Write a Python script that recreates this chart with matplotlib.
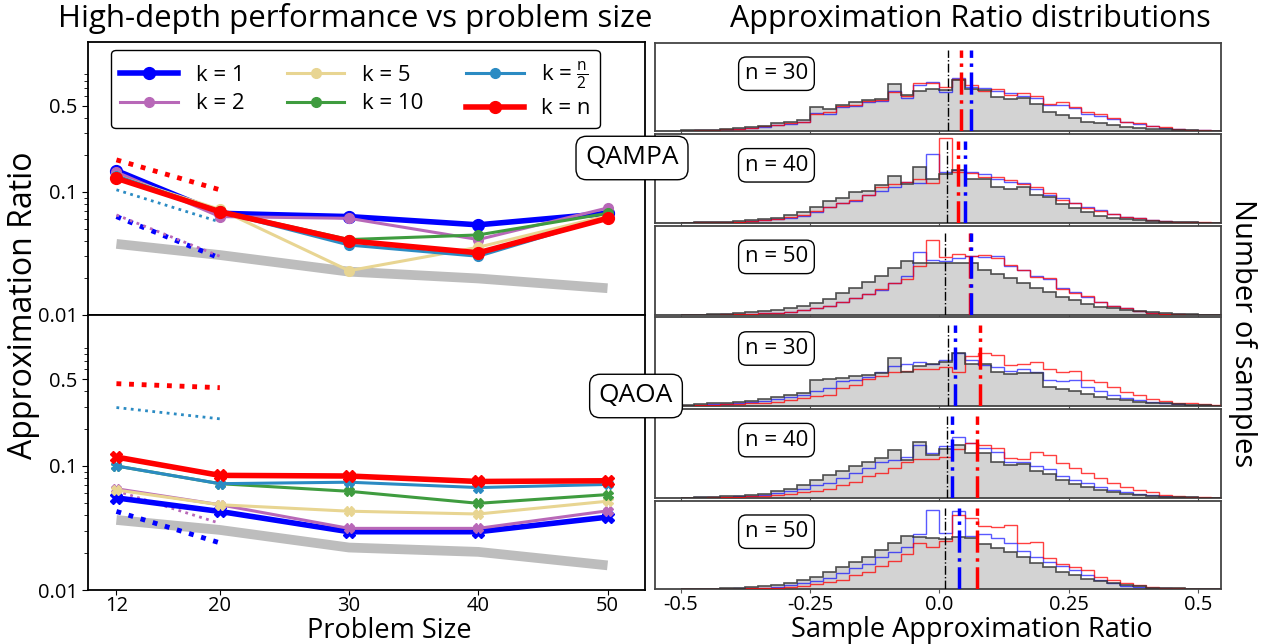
import numpy as np
import matplotlib.pyplot as plt
from matplotlib.ticker import FixedLocator, NullFormatter, NullLocator

plt.rcParams['font.family'] = ['Open Sans', 'DejaVu Sans']
plt.rcParams['mathtext.fontset'] = 'custom'
plt.rcParams['mathtext.rm'] = 'Open Sans'
plt.rcParams['mathtext.it'] = 'Open Sans'

# ---------------- left column: approximation ratio vs problem size ----------------
sizes = [12, 20, 30, 40, 50]
k_labels = ['k = 1', 'k = 2', 'k = 5', 'k = 10', r'k = $\frac{n}{2}$', 'k = n']
k_colors = ['#0000ff', '#b868b8', '#e8d592', '#3f9c3f', '#2b8bc3', '#ff0000']
k_widths = [4, 2.2, 2.2, 2.2, 2.2, 4]

qampa_k1 = [0.149, 0.067, 0.063, 0.054, 0.067]
qampa_k2 = [0.145, 0.063, 0.061, 0.041, 0.074]
qampa_k5 = [0.135, 0.072, 0.0229, 0.0355, 0.064]
qampa_k10 = [0.133, 0.070, 0.041, 0.0447, 0.067]
qampa_kn2 = [0.135, 0.069, 0.037, 0.030, 0.062]
qampa_kn = [0.129, 0.069, 0.040, 0.032, 0.061]
qampa_base = [0.0378, 0.0307, 0.0225, 0.0198, 0.0165]

qaoa_k1 = [0.0553, 0.043, 0.0295, 0.0295, 0.0387]
qaoa_k2 = [0.0655, 0.0487, 0.0314, 0.0314, 0.0435]
qaoa_k5 = [0.064, 0.0487, 0.0432, 0.041, 0.052]
qaoa_k10 = [0.100, 0.072, 0.0625, 0.050, 0.0588]
qaoa_kn2 = [0.100, 0.072, 0.074, 0.067, 0.071]
qaoa_kn = [0.118, 0.084, 0.083, 0.075, 0.076]
qaoa_base = [0.0367, 0.0305, 0.022, 0.0203, 0.0158]

# short dotted trend segments between n=12 and n=20 (k=1, k=2, k=n/2, k=n)
fit_sizes = [12, 20]
qampa_fit_k1 = [0.063, 0.029]
qampa_fit_k2 = [0.065, 0.030]
qampa_fit_kn2 = [0.104, 0.057]
qampa_fit_kn = [0.182, 0.104]
qaoa_fit_k1 = [0.043, 0.024]
qaoa_fit_k2 = [0.063, 0.0345]
qaoa_fit_kn2 = [0.296, 0.240]
qaoa_fit_kn = [0.461, 0.428]

# ---------------- right column: histograms (bin heights, relative) ----------------
bin_edges = np.linspace(-0.5, 0.55, 43)

qampa30_gray = [0.01, 0.015, 0.02, 0.03, 0.04, 0.05, 0.065, 0.09, 0.11, 0.13, 0.27, 0.25,
                0.30, 0.33, 0.35, 0.37, 0.53, 0.41, 0.45, 0.48, 0.47, 0.58, 0.48, 0.47,
                0.39, 0.37, 0.38, 0.31, 0.22, 0.18, 0.15, 0.11, 0.09, 0.07, 0.05, 0.04,
                0.03, 0.025, 0.015, 0.01, 0.005, 0.0]
qampa30_blue = [0.005, 0.01, 0.015, 0.02, 0.03, 0.04, 0.05, 0.07, 0.08, 0.10, 0.21, 0.20,
                0.27, 0.29, 0.33, 0.34, 0.46, 0.38, 0.52, 0.56, 0.44, 0.60, 0.50, 0.49,
                0.46, 0.43, 0.40, 0.38, 0.30, 0.30, 0.26, 0.20, 0.17, 0.14, 0.10, 0.08,
                0.06, 0.04, 0.03, 0.02, 0.01, 0.005]
qampa30_red = [0.005, 0.01, 0.015, 0.025, 0.03, 0.04, 0.055, 0.07, 0.09, 0.10, 0.20, 0.22,
               0.28, 0.30, 0.34, 0.35, 0.44, 0.40, 0.54, 0.55, 0.50, 0.59, 0.52, 0.46,
               0.48, 0.41, 0.43, 0.40, 0.31, 0.33, 0.27, 0.22, 0.19, 0.15, 0.11, 0.09,
               0.06, 0.05, 0.03, 0.02, 0.01, 0.005]

qampa40_gray = [0.0, 0.005, 0.01, 0.015, 0.02, 0.03, 0.04, 0.06, 0.09, 0.12, 0.18, 0.25,
                0.28, 0.35, 0.36, 0.43, 0.53, 0.44, 0.63, 0.50, 0.55, 0.60, 0.49, 0.50,
                0.40, 0.38, 0.40, 0.31, 0.29, 0.21, 0.17, 0.12, 0.08, 0.06, 0.04, 0.03,
                0.02, 0.01, 0.01, 0.005, 0.0, 0.0]
qampa40_blue = [0.0, 0.005, 0.005, 0.01, 0.015, 0.02, 0.03, 0.04, 0.06, 0.08, 0.12, 0.18,
                0.22, 0.25, 0.32, 0.36, 0.40, 0.46, 0.45, 0.78, 0.58, 0.60, 0.58, 0.55,
                0.50, 0.46, 0.45, 0.38, 0.32, 0.28, 0.23, 0.18, 0.14, 0.10, 0.07, 0.05,
                0.03, 0.02, 0.01, 0.005, 0.0, 0.0]
qampa40_red = [0.0, 0.005, 0.005, 0.01, 0.015, 0.02, 0.03, 0.045, 0.065, 0.09, 0.13, 0.18,
               0.22, 0.26, 0.32, 0.40, 0.44, 0.46, 0.50, 0.45, 0.96, 0.58, 0.56, 0.52,
               0.52, 0.48, 0.44, 0.40, 0.34, 0.26, 0.22, 0.17, 0.13, 0.10, 0.07, 0.05,
               0.03, 0.02, 0.01, 0.01, 0.005, 0.0]

qampa50_gray = [0.0, 0.0, 0.005, 0.01, 0.015, 0.025, 0.035, 0.05, 0.07, 0.10, 0.13, 0.18,
                0.24, 0.30, 0.37, 0.43, 0.52, 0.60, 0.58, 0.58, 0.58, 0.58, 0.58, 0.50,
                0.46, 0.41, 0.36, 0.30, 0.25, 0.20, 0.16, 0.12, 0.09, 0.07, 0.05, 0.035,
                0.025, 0.015, 0.01, 0.005, 0.0, 0.0]
qampa50_blue = [0.0, 0.0, 0.0, 0.005, 0.005, 0.01, 0.015, 0.02, 0.03, 0.05, 0.07, 0.10,
                0.14, 0.19, 0.23, 0.28, 0.36, 0.44, 0.70, 0.62, 0.60, 0.64, 0.66, 0.65,
                0.66, 0.55, 0.50, 0.44, 0.40, 0.30, 0.25, 0.20, 0.14, 0.10, 0.07, 0.04,
                0.02, 0.01, 0.005, 0.0, 0.0, 0.0]
qampa50_red = [0.0, 0.0, 0.0, 0.005, 0.005, 0.01, 0.015, 0.02, 0.03, 0.05, 0.07, 0.10,
               0.14, 0.19, 0.23, 0.29, 0.36, 0.40, 0.55, 0.84, 0.65, 0.68, 0.66, 0.67,
               0.64, 0.56, 0.50, 0.42, 0.41, 0.29, 0.24, 0.21, 0.14, 0.10, 0.07, 0.04,
               0.02, 0.01, 0.005, 0.0, 0.0, 0.0]

qaoa30_gray = [0.01, 0.02, 0.03, 0.04, 0.05, 0.06, 0.08, 0.10, 0.13, 0.15, 0.29, 0.31,
               0.32, 0.34, 0.35, 0.37, 0.54, 0.38, 0.45, 0.48, 0.50, 0.60, 0.48, 0.48,
               0.38, 0.36, 0.37, 0.37, 0.21, 0.19, 0.17, 0.14, 0.10, 0.08, 0.07, 0.05,
               0.04, 0.03, 0.02, 0.015, 0.01, 0.005]
qaoa30_blue = [0.005, 0.01, 0.02, 0.025, 0.035, 0.045, 0.06, 0.08, 0.10, 0.12, 0.17, 0.20,
               0.28, 0.30, 0.33, 0.38, 0.45, 0.48, 0.50, 0.47, 0.52, 0.60, 0.52, 0.46,
               0.44, 0.40, 0.42, 0.38, 0.30, 0.28, 0.30, 0.22, 0.17, 0.12, 0.09, 0.07,
               0.05, 0.03, 0.02, 0.015, 0.01, 0.005]
qaoa30_red = [0.005, 0.01, 0.015, 0.02, 0.025, 0.03, 0.04, 0.05, 0.07, 0.09, 0.11, 0.13,
              0.20, 0.24, 0.31, 0.34, 0.38, 0.40, 0.42, 0.42, 0.44, 0.38, 0.56, 0.60,
              0.58, 0.46, 0.48, 0.50, 0.42, 0.38, 0.40, 0.30, 0.27, 0.22, 0.16, 0.12,
              0.08, 0.06, 0.04, 0.03, 0.02, 0.01]

qaoa40_gray = [0.0, 0.005, 0.01, 0.015, 0.02, 0.03, 0.045, 0.07, 0.10, 0.14, 0.20, 0.26,
               0.30, 0.36, 0.40, 0.45, 0.54, 0.42, 0.63, 0.48, 0.55, 0.60, 0.51, 0.51,
               0.40, 0.37, 0.38, 0.30, 0.27, 0.20, 0.16, 0.12, 0.085, 0.06, 0.04, 0.03,
               0.02, 0.01, 0.01, 0.005, 0.0, 0.0]
qaoa40_blue = [0.0, 0.005, 0.005, 0.01, 0.015, 0.02, 0.03, 0.05, 0.07, 0.10, 0.14, 0.17,
               0.22, 0.28, 0.33, 0.40, 0.43, 0.46, 0.60, 0.50, 0.58, 0.68, 0.62, 0.56,
               0.52, 0.40, 0.40, 0.36, 0.32, 0.25, 0.20, 0.17, 0.12, 0.09, 0.06, 0.04,
               0.025, 0.015, 0.01, 0.005, 0.0, 0.0]
qaoa40_red = [0.0, 0.0, 0.005, 0.005, 0.01, 0.015, 0.02, 0.03, 0.045, 0.06, 0.08, 0.10,
              0.14, 0.18, 0.24, 0.28, 0.34, 0.40, 0.44, 0.44, 0.46, 0.55, 0.62, 0.60,
              0.56, 0.45, 0.44, 0.52, 0.48, 0.39, 0.34, 0.28, 0.22, 0.17, 0.12, 0.09,
              0.06, 0.035, 0.02, 0.01, 0.005, 0.0]

qaoa50_gray = [0.0, 0.0, 0.005, 0.01, 0.015, 0.025, 0.035, 0.05, 0.07, 0.10, 0.14, 0.19,
               0.25, 0.31, 0.37, 0.44, 0.52, 0.60, 0.59, 0.58, 0.57, 0.59, 0.58, 0.51,
               0.47, 0.42, 0.36, 0.30, 0.25, 0.20, 0.16, 0.12, 0.09, 0.07, 0.05, 0.035,
               0.02, 0.015, 0.01, 0.005, 0.0, 0.0]
qaoa50_blue = [0.0, 0.0, 0.0, 0.005, 0.01, 0.015, 0.02, 0.03, 0.05, 0.07, 0.09, 0.13,
               0.18, 0.24, 0.29, 0.36, 0.42, 0.48, 0.62, 0.90, 0.64, 0.88, 0.60, 0.62,
               0.58, 0.52, 0.43, 0.36, 0.31, 0.26, 0.22, 0.16, 0.10, 0.07, 0.04, 0.03,
               0.02, 0.01, 0.005, 0.0, 0.0, 0.0]
qaoa50_red = [0.0, 0.0, 0.0, 0.0, 0.005, 0.01, 0.015, 0.02, 0.03, 0.04, 0.06, 0.08,
              0.11, 0.16, 0.20, 0.26, 0.32, 0.40, 0.52, 0.48, 0.55, 0.84, 0.80, 0.71,
              0.70, 0.73, 0.52, 0.53, 0.35, 0.28, 0.25, 0.22, 0.14, 0.10, 0.07, 0.05,
              0.03, 0.02, 0.01, 0.005, 0.0, 0.0]

# mean lines drawn over each histogram
panel_n = [30, 40, 50, 30, 40, 50]
mean_gray = [0.017, 0.015, 0.011, 0.017, 0.015, 0.011]
mean_blue = [0.062, 0.050, 0.062, 0.030, 0.025, 0.038]
mean_red = [0.042, 0.037, 0.060, 0.079, 0.073, 0.072]

# ---------------- figure ----------------
W, H = 1269, 644
fig = plt.figure(figsize=(W / 100, H / 100), dpi=100)


def fx(px):
    return px / W


def fy(py):
    return 1 - py / H


left_x0, left_x1 = 88, 645
ax_top = fig.add_axes([fx(left_x0), fy(315), fx(left_x1 - left_x0), (315 - 42) / H])
ax_bot = fig.add_axes([fx(left_x0), fy(590), fx(left_x1 - left_x0), (590 - 315) / H])

qampa_lines = [qampa_k1, qampa_k2, qampa_k5, qampa_k10, qampa_kn2, qampa_kn]
qaoa_lines = [qaoa_k1, qaoa_k2, qaoa_k5, qaoa_k10, qaoa_kn2, qaoa_kn]
fit_colors = [k_colors[0], k_colors[1], k_colors[4], k_colors[5]]
fit_widths = [3.5, 2, 2, 3.5]
qampa_fits = [qampa_fit_k1, qampa_fit_k2, qampa_fit_kn2, qampa_fit_kn]
qaoa_fits = [qaoa_fit_k1, qaoa_fit_k2, qaoa_fit_kn2, qaoa_fit_kn]

for ax, lines, base, fits, mk in [(ax_top, qampa_lines, qampa_base, qampa_fits, 'o'),
                                   (ax_bot, qaoa_lines, qaoa_base, qaoa_fits, 'X')]:
    ax.plot(sizes, base, color='#bdbdbd', lw=7, solid_capstyle='butt', zorder=1)
    for f, c, w in zip(fits, fit_colors, fit_widths):
        ax.plot(fit_sizes, f, color=c, lw=w, linestyle=(0, (1, 1.6)), zorder=2)
    order = [2, 3, 1, 4, 0, 5]
    for i in order:
        ms = 8.5 if k_widths[i] > 3 else 7
        ax.plot(sizes, lines[i], color=k_colors[i], lw=k_widths[i], marker=mk,
                markersize=ms, label=k_labels[i], zorder=3 + i)
    ax.set_yscale('log')
    ax.set_ylim(0.01, 1.65)
    ax.set_xlim(9.8, 52.9)
    ax.yaxis.set_major_locator(FixedLocator([0.01, 0.1, 0.5]))
    ax.yaxis.set_major_formatter(plt.FixedFormatter(['0.01', '0.1', '0.5']))
    ax.yaxis.set_minor_locator(FixedLocator([0.02, 0.03, 0.04, 0.05, 0.06, 0.07, 0.08, 0.09,
                                             0.2, 0.3, 0.4, 0.6, 0.7, 0.8, 0.9]))
    ax.yaxis.set_minor_formatter(NullFormatter())
    ax.set_xticks(sizes)
    ax.tick_params(axis='both', labelsize=14.5, length=4)
    ax.tick_params(axis='x', length=3.5, pad=1)
    ax.tick_params(axis='y', which='minor', length=3)
    for s in ax.spines.values():
        s.set_linewidth(1.3)

ax_top.set_xticklabels([])

handles, labs = ax_top.get_legend_handles_labels()
hmap = dict(zip(labs, handles))
ax_top.legend([hmap[l] for l in k_labels], k_labels, loc='upper left', ncol=3,
              fontsize=16, handlelength=2.6, columnspacing=1.9, borderaxespad=0.3,
              labelspacing=0.35, frameon=True, edgecolor='black', fancybox=True,
              framealpha=1, bbox_to_anchor=(0.03, 0.995))

fig.text(fx(355), fy(27), 'High-depth performance vs problem size', fontsize=22.5,
         ha='center', va='baseline')
fig.text(fx(970), fy(27), 'Approximation Ratio distributions', fontsize=22,
         ha='center', va='baseline')
fig.text(fx(389), fy(630.5), 'Problem Size', fontsize=19.5, ha='center', va='center')
fig.text(fx(972), fy(630.5), 'Sample Approximation Ratio', fontsize=19.5,
         ha='center', va='center')
fig.text(fx(24), fy(305), 'Approximation Ratio', rotation=90, fontsize=23,
         ha='center', va='center')
fig.text(fx(1242), fy(333), 'Number of samples', rotation=270, fontsize=21,
         ha='center', va='center')

box = dict(boxstyle='round,pad=0.35,rounding_size=0.4', facecolor='white',
           edgecolor='black', lw=1)
fig.text(fx(632), fy(158), 'QAMPA', fontsize=19, ha='center', va='center', bbox=box, zorder=20)
fig.text(fx(636), fy(396), 'QAOA', fontsize=19, ha='center', va='center', bbox=box, zorder=20)

# right column
right_x0, right_x1 = 655, 1221
top_px, bot_px, gap_px = 42.7, 589.3, 3.0
ph = (bot_px - top_px - 5 * gap_px) / 6
hist_sets = [(qampa30_gray, qampa30_blue, qampa30_red),
             (qampa40_gray, qampa40_blue, qampa40_red),
             (qampa50_gray, qampa50_blue, qampa50_red),
             (qaoa30_gray, qaoa30_blue, qaoa30_red),
             (qaoa40_gray, qaoa40_blue, qaoa40_red),
             (qaoa50_gray, qaoa50_blue, qaoa50_red)]

rax = []
for j, (g, b, r) in enumerate(hist_sets):
    y0 = top_px + j * (ph + gap_px)
    ax = fig.add_axes([fx(right_x0), fy(y0 + ph), fx(right_x1 - right_x0), ph / H])
    ax.stairs(g, bin_edges, fill=True, color='#d3d3d3', zorder=1)
    ax.stairs(b, bin_edges, color='#0000ff', alpha=0.65, lw=1.0, zorder=2)
    ax.stairs(r, bin_edges, color='#ff0000', alpha=0.75, lw=1.0, zorder=3)
    ax.stairs(g, bin_edges, color='#333333', alpha=0.85, lw=1.2, zorder=4)
    ax.axvline(mean_gray[j], ymax=0.92, color='black', lw=1.0, ls='-.', zorder=5)
    ax.axvline(mean_red[j], ymax=0.92, color='#ff0000', lw=2.5, ls='-.', zorder=5)
    ax.axvline(mean_blue[j], ymax=0.92, color='#0000ff', lw=2.5, ls='-.', zorder=5)
    ax.set_xlim(-0.55, 0.545)
    ax.set_ylim(0, 1)
    ax.yaxis.set_major_locator(NullLocator())
    ax.set_xticks([-0.5, -0.25, 0.0, 0.25, 0.5])
    ax.tick_params(axis='x', labelsize=14.5, length=3, pad=1, color='#555555')
    for s in ax.spines.values():
        s.set_linewidth(1.3)
        s.set_color('#444444')
    ax.text(-0.315, 0.65, 'n = %d' % panel_n[j], fontsize=16, ha='center', va='center',
            bbox=dict(boxstyle='round,pad=0.28,rounding_size=0.35', facecolor='white',
                      edgecolor='black', lw=1))
    if j < 5:
        ax.set_xticklabels([])
    rax.append(ax)

rax[-1].set_xticklabels(['-0.5', '-0.25', '0.0', '0.25', '0.5'])

fig.savefig('out.png', dpi=100)
